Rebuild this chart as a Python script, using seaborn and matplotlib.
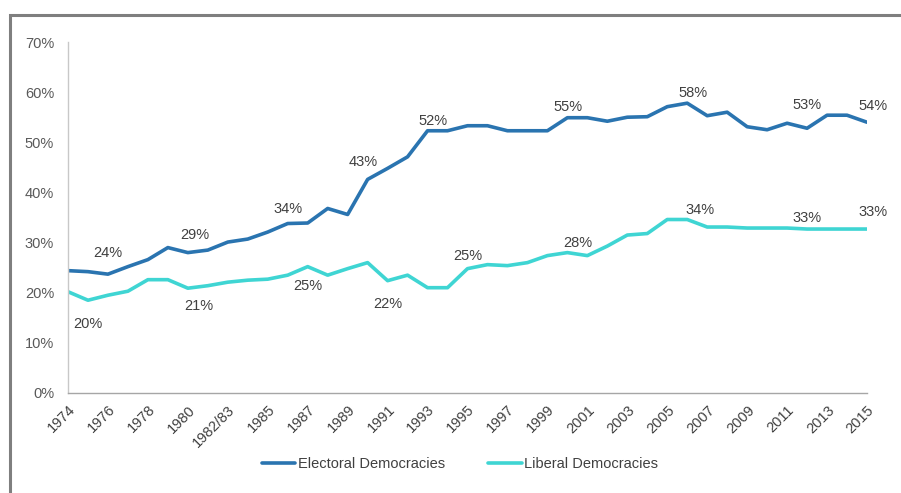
import matplotlib
matplotlib.use("Agg")
import matplotlib.pyplot as plt
import matplotlib.patches as mpatches
import numpy as np
import pandas as pd
import seaborn as sns

years = ["1974", "1975", "1976", "1977", "1978", "1979", "1980", "1981", "1982/83",
         "1984", "1985", "1986", "1987", "1988", "1989", "1990", "1991", "1992", "1993",
         "1994", "1995", "1996", "1997", "1998", "1999", "2000", "2001", "2002", "2003",
         "2004", "2005", "2006", "2007", "2008", "2009", "2010", "2011", "2012", "2013",
         "2014", "2015"]

electoral = [24.4, 24.2, 23.7, 25.2, 26.6, 29.0, 28.0, 28.5, 30.1, 30.7, 32.1, 33.8,
             33.9, 36.8, 35.6, 42.6, 44.8, 47.1, 52.3, 52.3, 53.3, 53.3, 52.3, 52.3,
             52.3, 54.9, 54.9, 54.2, 55.0, 55.1, 57.1, 57.8, 55.3, 56.0, 53.1, 52.5,
             53.8, 52.8, 55.4, 55.4, 54.0]

liberal = [20.2, 18.5, 19.5, 20.3, 22.6, 22.6, 20.9, 21.4, 22.1, 22.5, 22.7, 23.5,
           25.2, 23.5, 24.8, 26.0, 22.4, 23.5, 21.0, 21.0, 24.8, 25.6, 25.4, 26.0,
           27.4, 28.0, 27.4, 29.3, 31.5, 31.8, 34.6, 34.6, 33.1, 33.1, 32.9, 32.9,
           32.9, 32.7, 32.7, 32.7, 32.7]

series_names = ["Electoral Democracies", "Liberal Democracies"]
colors = ["#2a74b0", "#3fd5d3"]

# data labels: (index, text, dx px, dy px)
electoral_labels = [(2, "24%", 0, 21), (6, "29%", 7, 18), (11, "34%", 0, 15),
                    (15, "43%", -4, 17), (18, "52%", 5, 10), (25, "55%", 1, 11),
                    (31, "58%", 6, 10), (37, "53%", 0, 23), (40, "54%", 6, 16)]
liberal_labels = [(1, "20%", 0, -24), (7, "21%", -9, -20), (12, "25%", 0, -19),
                  (16, "22%", 0, -23), (20, "25%", 0, 13), (25, "28%", 10, 10),
                  (31, "34%", 13, 10), (37, "33%", 0, 11), (40, "33%", 6, 17)]

y_ticks = [0, 10, 20, 30, 40, 50, 60, 70]

sns.set_style("white")
plt.rcParams["font.family"] = ["Liberation Sans", "DejaVu Sans"]

df = pd.DataFrame({
    "idx": list(range(len(years))) * 2,
    "value": electoral + liberal,
    "series": [series_names[0]] * len(years) + [series_names[1]] * len(years),
})

fig = plt.figure(figsize=(9.01, 4.93), dpi=100)
ax = fig.add_axes([68 / 901, 1 - 393 / 493, (867 - 68) / 901, (393 - 42) / 493])

sns.lineplot(data=df, x="idx", y="value", hue="series", palette=colors,
             linewidth=2.6, ax=ax, legend=True)

ax.set_xlim(0, len(years) - 1)
ax.set_ylim(0, 70)
ax.set_xlabel("")
ax.set_ylabel("")

ax.set_xticks(range(0, len(years), 2))
ax.set_xticklabels(years[::2], rotation=45, ha="right", rotation_mode="anchor",
                   fontsize=10.5, color="#404040")
ax.set_yticks(y_ticks)
ax.set_yticklabels([f"{v}%" for v in y_ticks], fontsize=10.5, color="#595959")
ax.tick_params(axis="x", direction="out", length=4, width=1, color="#a6a6a6", pad=3)
ax.tick_params(axis="y", direction="out", length=4, width=1, color="#c8c8c8", pad=6)

for side in ["top", "right"]:
    ax.spines[side].set_visible(False)
ax.spines["left"].set_color("#c8c8c8")
ax.spines["bottom"].set_color("#a6a6a6")
ax.spines["left"].set_linewidth(1)
ax.spines["bottom"].set_linewidth(1)

for labels, vals in [(electoral_labels, electoral), (liberal_labels, liberal)]:
    for i, txt, dx, dy in labels:
        ax.annotate(txt, xy=(i, vals[i]), xytext=(dx * 0.72, dy * 0.72),
                    textcoords="offset points", ha="center", va="center",
                    fontsize=10.5, color="#404040", annotation_clip=False)

handles, lbls = ax.get_legend_handles_labels()
ax.legend(handles, lbls, loc="center", bbox_to_anchor=(460 / 901, 1 - 464 / 493),
          bbox_transform=fig.transFigure, ncol=2, frameon=False, fontsize=10.5,
          handlelength=2.3, handletextpad=0.15, columnspacing=3.0,
          labelcolor="#404040")

border = mpatches.Rectangle((10 / 901, -0.1), 1.1, 1 - 15 / 493 + 0.1,
                            transform=fig.transFigure, fill=False,
                            edgecolor="#7f7f7f", linewidth=2.2, clip_on=False)
fig.patches.append(border)

fig.savefig("out.png", dpi=100)
